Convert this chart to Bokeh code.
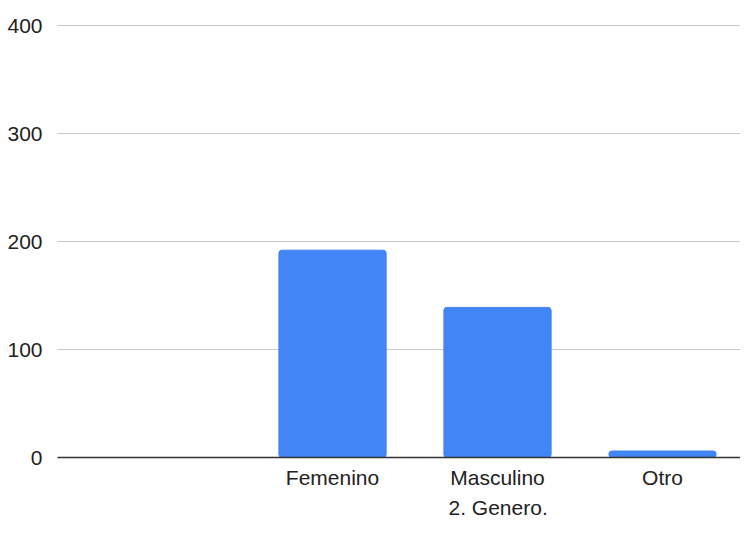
from bokeh.plotting import figure
from bokeh.models import Range1d, FixedTicker, ColumnDataSource, Title
from bokeh.embed import file_html
from bokeh.resources import INLINE

categories = ["Femenino", "Masculino", "Otro"]
counts = [192, 139, 6]
y_ticks = [0, 100, 200, 300, 400]
x_title = "2. Genero."

positions = [i + 1 for i in range(len(categories))]
src = ColumnDataSource(dict(x=positions, top=counts, cat=categories))

FONT = "Liberation Sans"
TXT = "#222222"
FS = "21px"

p = figure(width=740, height=521, output_backend="svg", toolbar_location=None,
           x_range=Range1d(-0.6667, 3.4727), y_range=Range1d(0, 401),
           min_border_left=57, min_border_top=24, min_border_bottom=64,
           min_border_right=0)
p.outline_line_color = None
p.background_fill_color = "white"
p.border_fill_color = "white"

p.vbar(x="x", top="top", width=0.65, source=src, color="#4285F4",
       border_radius=3)

p.xgrid.grid_line_color = None
p.ygrid.ticker = FixedTicker(ticks=y_ticks)
p.ygrid.grid_line_color = "#c8c8c8"
p.ygrid.grid_line_width = 1

p.yaxis.ticker = FixedTicker(ticks=y_ticks)
p.yaxis.axis_line_color = None
p.yaxis.major_tick_line_color = None
p.yaxis.minor_tick_line_color = None
p.yaxis.major_label_standoff = 9
p.yaxis.major_label_text_font = FONT
p.yaxis.major_label_text_font_size = FS
p.yaxis.major_label_text_color = TXT

p.xaxis.ticker = FixedTicker(ticks=positions)
p.xaxis.major_label_overrides = {x: c for x, c in zip(positions, categories)}
p.xaxis.axis_line_color = "#333333"
p.xaxis.axis_line_width = 1.3
p.xaxis.major_tick_line_color = None
p.xaxis.minor_tick_line_color = None
p.xaxis.major_label_standoff = 2
p.xaxis.major_label_text_font = FONT
p.xaxis.major_label_text_font_size = FS
p.xaxis.major_label_text_color = TXT

p.add_layout(Title(text=x_title, align="left", offset=391, standoff=5,
                   text_font=FONT, text_font_size=FS, text_color=TXT,
                   text_font_style="normal"), "below")

open("out.html", "w").write(file_html(p, INLINE))
